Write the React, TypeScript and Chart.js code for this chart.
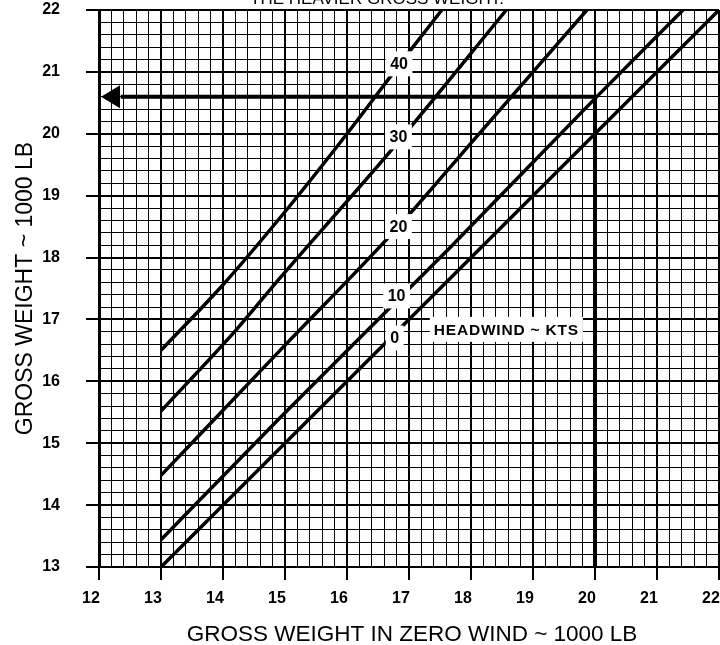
import { useEffect, useRef } from 'react';
import { Chart, registerables } from 'chart.js';

Chart.register(...registerables);

const FONT = "'Liberation Sans', Arial, Helvetica, sans-serif";

// Axis ranges and ticks
const X_MIN = 12;
const X_MAX = 22;
const Y_MIN = 13;
const Y_MAX = 22;
const GRID_STEP = 0.2;
const xTickLabels = ['12', '13', '14', '15', '16', '17', '18', '19', '20', '21', '22'];
const yTickLabels = ['13', '14', '15', '16', '17', '18', '19', '20', '21', '22'];

// Headwind curves (gross weight in zero wind -> gross weight)
const headwindKts = ['0', '10', '20', '30', '40'];
const zeroWind0 = [13, 22];
const gross0 = [13, 22];
const zeroWind10 = [13, 14.92, 17.66, 20.03, 21.42];
const gross10 = [13.44, 15.41, 18.16, 20.6, 22];
const zeroWind20 = [13, 14.92, 16.83, 18.0, 19.87];
const gross20 = [14.48, 16.5, 18.5, 19.85, 22];
const zeroWind30 = [13, 14.22, 14.92, 16.77, 18.57];
const gross30 = [15.52, 16.84, 17.67, 19.8, 22];
const zeroWind40 = [13, 14, 15, 16, 17, 17.53];
const gross40 = [16.5, 17.56, 18.74, 20.0, 21.32, 22];

// Curve label anchors
const labelZeroWind = [16.77, 16.8, 16.83, 16.83, 16.84];
const labelGross = [16.7, 17.38, 18.5, 19.95, 21.13];
const headwindTitle = 'HEADWIND ~ KTS';
const headwindTitleZeroWind = 18.57;
const headwindTitleGross = 16.84;

// Example path
const exampleZeroWind = 20;
const exampleGross = 20.6;
const exampleArrowEnd = 12.35;

// Texts
const xTitle = 'GROSS WEIGHT IN ZERO WIND ~ 1000 LB';
const yTitle = 'GROSS WEIGHT ~ 1000 LB';
const topNote = 'THE HEAVIER GROSS WEIGHT.';

const isMajor = (v: number) => Math.abs(v - Math.round(v)) < 1e-6;

const toPoints = (xs: number[], ys: number[]) => xs.map((x, i) => ({ x, y: ys[i] }));

const overlayPlugin = {
  id: 'overlay',
  afterDatasetsDraw(chart: any) {
    const { ctx } = chart;
    const xs = chart.scales.x;
    const ys = chart.scales.y;
    ctx.save();
    // arrow head
    const ay = ys.getPixelForValue(exampleGross);
    const tip = xs.getPixelForValue(X_MIN) + 2;
    ctx.fillStyle = '#000';
    ctx.beginPath();
    ctx.moveTo(tip, ay);
    ctx.lineTo(tip + 19, ay - 11.5);
    ctx.lineTo(tip + 19, ay + 11.5);
    ctx.closePath();
    ctx.fill();

    // curve labels
    ctx.font = `bold 16px ${FONT}`;
    ctx.textAlign = 'center';
    ctx.textBaseline = 'middle';
    headwindKts.forEach((t, i) => {
      const px = xs.getPixelForValue(labelZeroWind[i]);
      const py = ys.getPixelForValue(labelGross[i]);
      const w = ctx.measureText(t).width + 9;
      const h = 25;
      ctx.fillStyle = '#fff';
      ctx.fillRect(px - w / 2, py - h / 2, w, h);
      ctx.fillStyle = '#000';
      ctx.fillText(t, px, py + 1);
    });
    // headwind title
    {
      const px = xs.getPixelForValue(headwindTitleZeroWind);
      const py = ys.getPixelForValue(headwindTitleGross);
      ctx.font = `bold 15.5px ${FONT}`;
      (ctx as any).letterSpacing = '0.8px';
      const w = ctx.measureText(headwindTitle).width + 8;
      const h = 25;
      ctx.fillStyle = '#fff';
      ctx.fillRect(px - w / 2, py - h / 2, w, h);
      ctx.fillStyle = '#000';
      ctx.fillText(headwindTitle, px, py + 1);
      (ctx as any).letterSpacing = '0px';
    }
    ctx.restore();
  },
  afterDraw(chart: any) {
    const { ctx, chartArea } = chart;
    ctx.save();
    ctx.fillStyle = '#000';
    // x title
    ctx.font = `22.5px ${FONT}`;
    ctx.textAlign = 'center';
    ctx.textBaseline = 'alphabetic';
    ctx.fillText(xTitle, (chartArea.left + chartArea.right) / 2 + 3, 641);
    // y title
    ctx.save();
    ctx.font = `23px ${FONT}`;
    ctx.translate(32, (chartArea.top + chartArea.bottom) / 2);
    ctx.rotate(-Math.PI / 2);
    ctx.fillText(yTitle, 0, 0);
    ctx.restore();
    // clipped note at top
    ctx.font = `17px ${FONT}`;
    ctx.textAlign = 'center';
    ctx.fillText(topNote, 377, 4);
    ctx.restore();
  },
};

export default function App() {
  const canvasRef = useRef<HTMLCanvasElement | null>(null);

  useEffect(() => {
    if (!canvasRef.current) return;
    const lineStyle = {
      showLine: true,
      borderColor: '#000',
      borderWidth: 3.5,
      pointRadius: 0,
      cubicInterpolationMode: 'monotone' as const,
      fill: false,
    };
    const curves = [
      toPoints(zeroWind0, gross0),
      toPoints(zeroWind10, gross10),
      toPoints(zeroWind20, gross20),
      toPoints(zeroWind30, gross30),
      toPoints(zeroWind40, gross40),
    ];
    const datasets: any[] = curves.map((data, i) => ({
      label: headwindKts[i],
      data,
      ...lineStyle,
    }));
    datasets.push({
      label: 'example',
      data: [
        { x: exampleZeroWind, y: Y_MIN },
        { x: exampleZeroWind, y: exampleGross },
        { x: exampleArrowEnd, y: exampleGross },
      ],
      showLine: true,
      borderColor: '#000',
      borderWidth: 4,
      pointRadius: 0,
      tension: 0,
      fill: false,
    });

    const gridColor = () => '#000';
    const gridWidth = (c: any) => (c.tick && isMajor(c.tick.value) ? 2 : 1);
    const tickColor = (c: any) => (c.tick && isMajor(c.tick.value) ? '#000' : 'rgba(0,0,0,0)');

    const chart = new Chart(canvasRef.current, {
      type: 'scatter',
      data: { datasets },
      plugins: [overlayPlugin],
      options: {
        animation: false,
        responsive: false,
        events: [],
        layout: { padding: { top: 10, right: 1, left: 0, bottom: 0 } },
        plugins: { legend: { display: false }, tooltip: { enabled: false }, title: { display: false } },
        scales: {
          x: {
            type: 'linear',
            min: X_MIN,
            max: X_MAX,
            afterFit: (s: any) => {
              s.height = 78;
              s.paddingLeft = 0;
              s.paddingRight = 0;
            },
            border: { display: true, color: '#000', width: 2 },
            grid: {
              color: gridColor,
              lineWidth: gridWidth,
              tickLength: 13,
              tickColor,
              tickWidth: 2,
            },
            ticks: {
              stepSize: GRID_STEP,
              maxTicksLimit: 200,
              autoSkip: false,
              maxRotation: 0,
              minRotation: 0,
              padding: 9,
              labelOffset: -8,
              color: '#000',
              font: { family: FONT, size: 16, weight: 'bold' },
              callback: (v: any) => (isMajor(Number(v)) ? xTickLabels[Math.round(Number(v)) - X_MIN] : ''),
            },
          },
          y: {
            type: 'linear',
            min: Y_MIN,
            max: Y_MAX,
            afterFit: (s: any) => {
              s.width = 99;
              s.paddingTop = 0;
              s.paddingBottom = 0;
            },
            border: { display: true, color: '#000', width: 3 },
            grid: {
              color: gridColor,
              lineWidth: gridWidth,
              tickLength: 13,
              tickColor,
              tickWidth: 2,
            },
            ticks: {
              stepSize: GRID_STEP,
              maxTicksLimit: 200,
              autoSkip: false,
              padding: 26,
              color: '#000',
              font: { family: FONT, size: 16, weight: 'bold' },
              callback: (v: any) => (isMajor(Number(v)) ? yTickLabels[Math.round(Number(v)) - Y_MIN] : ''),
            },
          },
        },
      } as any,
    });
    return () => chart.destroy();
  }, []);

  return (
    <div style={{ position: 'fixed', left: 0, top: 0, width: 720, height: 645, background: '#fff' }}>
      <canvas ref={canvasRef} width={720} height={645} />
    </div>
  );
}
